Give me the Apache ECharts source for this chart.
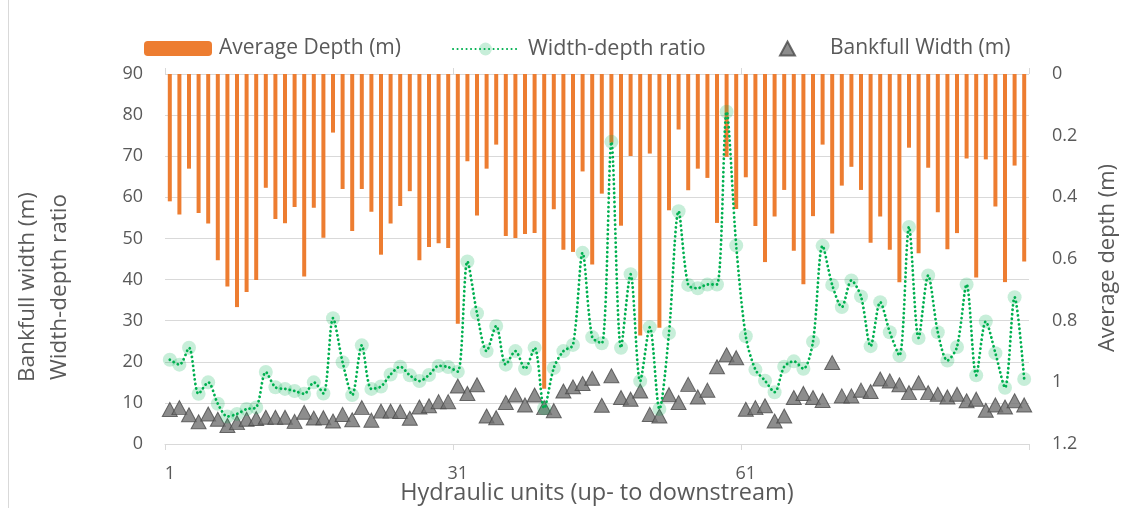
<!DOCTYPE html>
<html>
<head>
<meta charset="utf-8">
<script src="https://cdn.jsdelivr.net/npm/echarts@6/dist/echarts.min.js"></script>
<style>
  html, body { margin: 0; padding: 0; background: #ffffff; }
  #chart { width: 1130px; height: 508px; }
</style>
</head>
<body>
<div id="chart"></div>
<script>
// Hydraulic units numbered from upstream (1) to downstream (90)
const unitCount = 90;
const units = Array.from({ length: unitCount }, (_, i) => String(i + 1));

// Average depth per unit (m), plotted downward on the right axis
const averageDepth = [
  0.413, 0.456, 0.307, 0.451, 0.485, 0.604, 0.689, 0.756, 0.707, 0.668,
  0.369, 0.470, 0.484, 0.431, 0.657, 0.434, 0.531, 0.190, 0.373, 0.509,
  0.373, 0.447, 0.586, 0.485, 0.428, 0.380, 0.604, 0.561, 0.549, 0.564,
  0.810, 0.283, 0.459, 0.307, 0.229, 0.525, 0.532, 0.519, 0.516, 1.021,
  0.439, 0.570, 0.577, 0.316, 0.618, 0.388, 0.223, 0.492, 0.266, 0.848,
  0.258, 0.823, 0.442, 0.180, 0.377, 0.307, 0.337, 0.483, 0.269, 0.438,
  0.335, 0.493, 0.610, 0.462, 0.376, 0.573, 0.682, 0.461, 0.229, 0.517,
  0.362, 0.301, 0.376, 0.547, 0.462, 0.570, 0.675, 0.239, 0.581, 0.304,
  0.448, 0.568, 0.516, 0.274, 0.660, 0.277, 0.430, 0.675, 0.297, 0.608
];

// Width-depth ratio per unit
const widthDepthRatio = [
  20.5, 19.3, 23.4, 12.2, 15.0, 9.8, 6.7, 7.3, 8.5, 8.9,
  17.5, 13.8, 13.4, 12.9, 12.2, 15.0, 12.3, 30.6, 19.9, 11.9,
  24.0, 13.4, 14.0, 16.9, 18.8, 16.7, 15.3, 16.8, 19.0, 18.7,
  17.6, 44.4, 31.8, 22.6, 28.7, 19.3, 22.6, 18.3, 23.4, 8.7,
  18.5, 22.6, 24.1, 46.5, 26.0, 24.5, 73.5, 23.4, 41.3, 15.3,
  28.4, 8.5, 27.0, 56.6, 38.7, 37.9, 38.8, 38.8, 80.8, 48.3,
  26.2, 18.1, 15.4, 12.6, 18.8, 20.1, 18.3, 24.9, 48.2, 38.7,
  33.3, 39.8, 35.9, 23.8, 34.5, 27.2, 21.5, 52.8, 25.8, 41.0,
  27.2, 20.3, 23.6, 38.8, 16.7, 29.8, 22.1, 13.7, 35.7, 15.8
];

// Bankfull width per unit (m)
const bankfullWidth = [
  8.4, 8.85, 7.1, 5.4, 7.3, 6.0, 4.5, 5.2, 6.0, 6.2,
  6.5, 6.5, 6.5, 5.5, 7.7, 6.3, 6.4, 5.6, 7.2, 5.9,
  8.85, 5.8, 8.0, 8.0, 7.9, 6.25, 9.0, 9.3, 10.3, 10.3,
  14.1, 12.3, 14.4, 6.8, 6.4, 10.1, 11.9, 9.5, 11.9, 8.85,
  8.1, 12.9, 13.9, 14.7, 16.0, 9.4, 16.6, 11.3, 10.9, 12.9,
  7.2, 6.8, 12.0, 10.1, 14.5, 11.45, 13.1, 18.8, 21.7, 21.0,
  8.45, 8.85, 9.3, 5.6, 6.8, 11.3, 12.3, 11.3, 10.6, 19.8,
  11.7, 11.7, 13.1, 12.75, 15.8, 15.35, 14.4, 12.5, 14.9, 12.5,
  12.1, 11.45, 12.1, 10.5, 10.9, 8.2, 9.5, 9.0, 10.5, 9.5
];

const FONT = '"Open Sans", Lato, sans-serif';
const TEXT = '#595959';
const GRID = '#d9d9d9';
const TRI_FILL = '#707070';
const TRI_EDGE = '#4a4a4a';

const chart = echarts.init(document.getElementById('chart'), null, { renderer: 'canvas' });

const legendText = { color: TEXT, fontFamily: FONT, fontSize: 21, padding: [0, 0, 0, 2] };

chart.setOption({
  animation: false,
  backgroundColor: '#ffffff',
  textStyle: { fontFamily: FONT },
  grid: { left: 165, right: 101, top: 74, bottom: 64 },
  legend: [
    {
      data: ['Average Depth (m)'], left: 144, top: 38, padding: 0,
      itemWidth: 68, itemHeight: 15, textStyle: legendText
    },
    {
      data: ['Width-depth ratio'], left: 452, top: 38, padding: 0,
      itemWidth: 65, itemHeight: 16, textStyle: { ...legendText, fontSize: 21.5, padding: [0, 0, 0, 5] }
    },
    {
      data: [{ name: 'Bankfull Width (m)', icon: 'triangle' }], left: 779, top: 38, padding: 0,
      itemWidth: 15, itemHeight: 14, textStyle: { ...legendText, padding: [0, 0, 0, 30] }
    }
  ],
  xAxis: [
    {
      type: 'category',
      data: units,
      boundaryGap: true,
      axisLine: { show: true, lineStyle: { color: GRID, width: 1 } },
      axisTick: { show: true, interval: 29, length: 6, lineStyle: { color: GRID } },
      axisLabel: { interval: 29, color: TEXT, fontFamily: FONT, fontSize: 18, margin: 21 },
      splitLine: { show: false }
    },
    {
      // tick marks crossing the category axis upward
      type: 'category',
      data: units,
      position: 'bottom',
      boundaryGap: true,
      axisLine: { show: false },
      axisTick: { show: true, inside: true, interval: 29, length: 6, lineStyle: { color: GRID } },
      axisLabel: { show: false },
      splitLine: { show: false }
    }
  ],
  yAxis: [
    {
      type: 'value',
      min: 0, max: 90, interval: 10,
      axisLine: { show: false },
      axisTick: { show: false },
      axisLabel: { color: TEXT, fontFamily: FONT, fontSize: 18, margin: 22 },
      splitLine: { show: true, lineStyle: { color: GRID, width: 1 } }
    },
    {
      type: 'value',
      min: 0, max: 1.2, interval: 0.2,
      inverse: true,
      axisLine: { show: false },
      axisTick: { show: false },
      axisLabel: { color: TEXT, fontFamily: FONT, fontSize: 18, margin: 23 },
      splitLine: { show: false }
    }
  ],
  series: [
    {
      name: 'Average Depth (m)',
      type: 'bar',
      xAxisIndex: 0,
      yAxisIndex: 1,
      data: averageDepth,
      barWidth: 4,
      itemStyle: { color: '#ED7D31' }
    },
    {
      name: 'Width-depth ratio',
      type: 'line',
      xAxisIndex: 0,
      yAxisIndex: 0,
      data: widthDepthRatio,
      smooth: 0.3,
      showAllSymbol: true,
      symbol: 'circle',
      symbolSize: 14,
      lineStyle: { color: '#00B050', width: 2.8, type: [0.1, 4.4], cap: 'round' },
      itemStyle: { color: 'rgba(0,176,80,0.22)', borderWidth: 0 }
    },
    {
      name: 'Bankfull Width (m)',
      type: 'scatter',
      xAxisIndex: 0,
      yAxisIndex: 0,
      data: bankfullWidth,
      symbol: 'triangle',
      symbolSize: [15, 14],
      itemStyle: { color: TRI_FILL, borderColor: TRI_EDGE, borderWidth: 1 }
    }
  ],
  graphic: [
    {
      type: 'line', silent: true,
      shape: { x1: 8.5, y1: 0, x2: 8.5, y2: 508 },
      style: { stroke: GRID, lineWidth: 1 }
    },
    {
      type: 'text', x: 28, y: 287, rotation: Math.PI / 2,
      style: { text: 'Bankfull width (m)', fill: TEXT, font: '22.5px ' + FONT, align: 'center', verticalAlign: 'middle' }
    },
    {
      type: 'text', x: 60, y: 287, rotation: Math.PI / 2,
      style: { text: 'Width-depth ratio', fill: TEXT, font: '22.5px ' + FONT, align: 'center', verticalAlign: 'middle' }
    },
    {
      type: 'text', x: 1108, y: 258, rotation: Math.PI / 2,
      style: { text: 'Average depth (m)', fill: TEXT, font: '22px ' + FONT, align: 'center', verticalAlign: 'middle' }
    },
    {
      type: 'text', x: 597, y: 493,
      style: { text: 'Hydraulic units (up- to downstream)', fill: TEXT, font: '23.5px ' + FONT, align: 'center', verticalAlign: 'middle' }
    }
  ]
});
</script>
</body>
</html>
